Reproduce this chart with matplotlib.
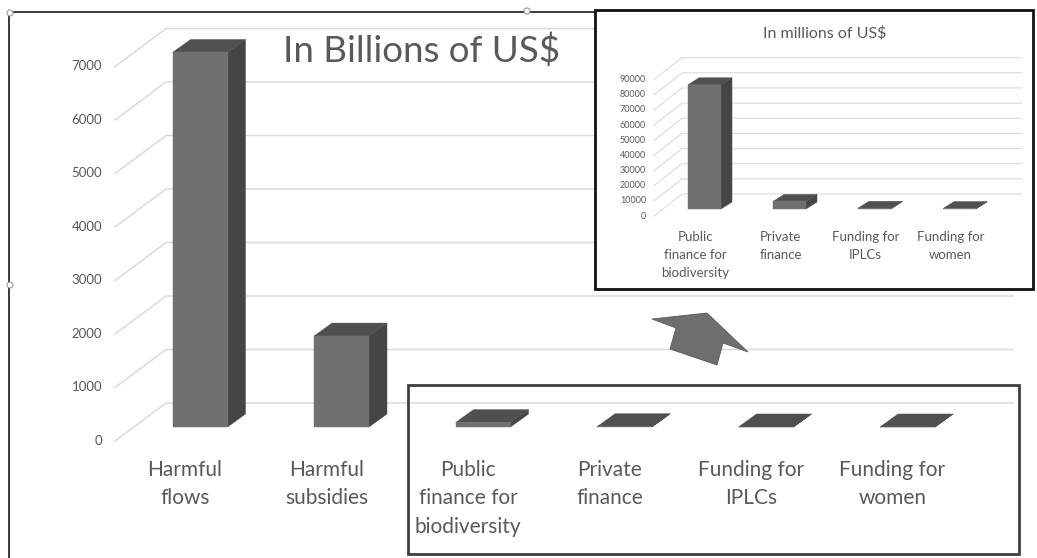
import matplotlib
matplotlib.use("Agg")
import matplotlib.pyplot as plt
import matplotlib.patches as mpatches
from matplotlib.lines import Line2D
import numpy as np

W, H = 1037, 558
plt.rcParams['font.family'] = ["Lato", "DejaVu Sans"]

# ---------------- data ----------------
main_categories = ["Harmful\nflows", "Harmful\nsubsidies", "Public\nfinance for\nbiodiversity",
                   "Private\nfinance", "Funding for\nIPLCs", "Funding for\nwomen"]
main_values = [7000, 1700, 82, 5, 0.5, 0.3]          # billions of US$
main_ticks = [0, 1000, 2000, 3000, 4000, 5000, 6000, 7000]
main_title = "In Billions of US$"

inset_categories = ["Public\nfinance for\nbiodiversity", "Private\nfinance",
                    "Funding for\nIPLCs", "Funding for\nwomen"]
inset_values = [82000, 5000, 500, 300]                 # millions of US$
inset_ticks = [0, 10000, 20000, 30000, 40000, 50000, 60000, 70000, 80000, 90000]
inset_title = "In millions of US$"

# ---------------- style ----------------
FRONT = "#707070"
TOP = "#505050"
SIDE = "#454545"
GRID = "#dadada"
TXT = "#595959"

fig = plt.figure(figsize=(W / 100, H / 100), dpi=100)
fig.patch.set_facecolor("white")


def fx(x):
    return x / W


def fy(y):
    return 1 - y / H


def px_axes(left, top, width, height):
    return fig.add_axes([left / W, 1 - (top + height) / H, width / W, height / H])


def draw_chart(ax, cats, vals, ticks, bar_w_px, depth, tick_off, wall_off,
               wall_x0, wall_x1, tick_fs, tick_pad, label_fs, label_gap, label_dx,
               label_ls, grid_lw):
    ax.set_axis_off()
    ax.patch.set_visible(False)
    ux = ax.transData.transform((1, 0))[0] - ax.transData.transform((0, 0))[0]
    uy = ax.transData.transform((0, 1))[1] - ax.transData.transform((0, 0))[1]

    def off(p):
        return p[0] / ux, p[1] / uy

    tdx, tdy = off(tick_off)
    wdx, wdy = off(wall_off)
    ddx, ddy = off(depth)
    bw = bar_w_px / ux

    for t in ticks:
        ax.plot([wall_x0 + tdx, wall_x0 + wdx, wall_x1 + wdx],
                [t + tdy, t + wdy, t + wdy], color=GRID, lw=grid_lw,
                clip_on=False, zorder=1, solid_joinstyle="miter")
        ax.text(wall_x0 + tdx - tick_pad / ux, t + tdy, f"{t}", ha="right", va="center",
                fontsize=tick_fs, color=TXT, clip_on=False)

    xs = np.arange(len(vals))
    for xi, v in zip(xs, vals):
        side = mpatches.Polygon([(xi + bw / 2, 0), (xi + bw / 2 + ddx, ddy),
                                 (xi + bw / 2 + ddx, v + ddy), (xi + bw / 2, v)],
                                closed=True, facecolor=SIDE, edgecolor=SIDE, lw=0.3,
                                clip_on=False, zorder=3)
        top = mpatches.Polygon([(xi - bw / 2, v), (xi + bw / 2, v),
                                (xi + bw / 2 + ddx, v + ddy), (xi - bw / 2 + ddx, v + ddy)],
                               closed=True, facecolor=TOP, edgecolor=TOP, lw=0.3,
                               clip_on=False, zorder=3)
        ax.add_patch(side)
        ax.add_patch(top)
    ax.bar(xs, vals, width=bw, color=FRONT, edgecolor=FRONT, lw=0.3, zorder=4, clip_on=False)

    for xi, c in zip(xs, cats):
        ax.text(xi + tdx + label_dx / ux, tdy - label_gap / uy, c, ha="center", va="top",
                fontsize=label_fs, color=TXT, linespacing=label_ls, clip_on=False)


# ---------------- main chart ----------------
ax = px_axes(129.25, 52.5, 849, 374.5)
ax.set_xlim(-0.5, 5.5)
ax.set_ylim(0, 7000)
ax.set_zorder(1)
draw_chart(ax, main_categories, main_values, main_ticks, bar_w_px=55, depth=(18, 13),
           tick_off=(-19, -14), wall_off=(32, 24), wall_x0=-0.466, wall_x1=5.52,
           tick_fs=9.5, tick_pad=13, label_fs=15, label_gap=19, label_dx=4,
           label_ls=1.52, grid_lw=1.1)

fig.text(fx(422), fy(51), main_title, ha="center", va="center", fontsize=26.5,
         color=TXT, zorder=5)

# frame of the main chart
fig.add_artist(Line2D([fx(9), fx(9)], [fy(12), fy(558)], color="#1a1a1a", lw=1.2, zorder=2))
fig.add_artist(Line2D([fx(9), fx(596)], [fy(12), fy(12)], color="#1a1a1a", lw=1.2, zorder=2))
for hx, hy in [(10, 13), (527, 11), (10, 285)]:
    fig.add_artist(mpatches.Ellipse((fx(hx), fy(hy)), 6 / W, 6 / H, facecolor="white",
                                    edgecolor="#999999", lw=0.8, zorder=3))

# highlight box around the small values
fig.add_artist(mpatches.Rectangle((fx(408), fy(554)), (1019 - 408) / W, (554 - 385) / H,
                                  facecolor="none", edgecolor="#404040", lw=2, zorder=6))

# arrow
arrow_px = [(652, 319), (707, 313), (748, 352), (723, 343), (717, 365), (670, 349), (676, 328)]
fig.add_artist(mpatches.Polygon([(fx(a), fy(b)) for a, b in arrow_px], closed=True,
                                facecolor="#6e6e6e", edgecolor="#5a5a5a", lw=0.6, zorder=6))

# ---------------- inset ----------------
fig.add_artist(mpatches.Rectangle((fx(595), fy(289)), (1033 - 595) / W, (289 - 10) / H,
                                  facecolor="white", edgecolor="#111111", lw=2, zorder=2))
ax2 = px_axes(662, 72.65, 340, 136.35)
ax2.set_xlim(-0.5, 3.5)
ax2.set_ylim(0, 90000)
ax2.set_zorder(3)
draw_chart(ax2, inset_categories, inset_values, inset_ticks, bar_w_px=33, depth=(11, 7),
           tick_off=(-9, -7), wall_off=(19, 15), wall_x0=-0.488, wall_x1=3.51,
           tick_fs=6.5, tick_pad=8, label_fs=9.5, label_gap=15, label_dx=0,
           label_ls=1.6, grid_lw=0.8)

fig.text(fx(825), fy(33), inset_title, ha="center", va="center", fontsize=11.5,
         color=TXT, zorder=5)

fig.savefig("out.png", dpi=100)
